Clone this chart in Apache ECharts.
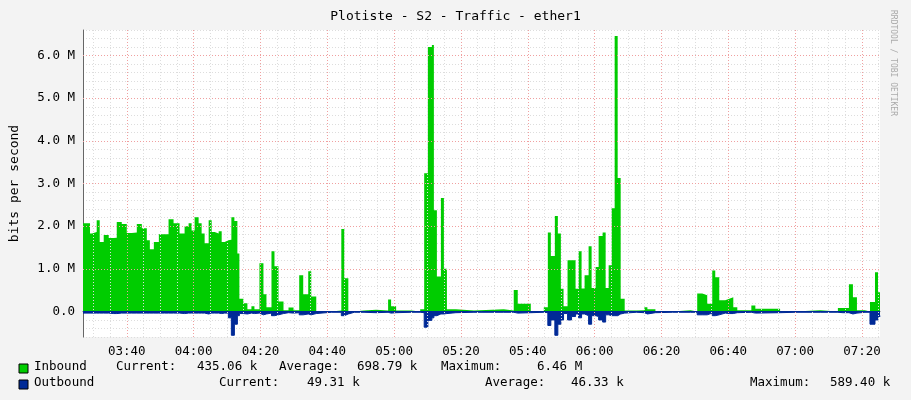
<!DOCTYPE html>
<html><head><meta charset="utf-8">
<script src="https://cdn.jsdelivr.net/npm/echarts@6/dist/echarts.min.js"></script>
<style>html,body{margin:0;padding:0;background:#f3f3f3}#c{width:911px;height:400px}</style>
</head><body><div id="c"></div>
<script>
// times in minutes since midnight, values in Mbit/s
const times = [206.9,209,209.6,211,211.9,213.1,214.6,216.1,217,218.5,220,221.5,223,224.5,226,226.9,228.1,229.6,231.3,232.5,234,235.8,237.3,238.5,239.4,240.3,241.5,242.4,243.3,244.5,245.4,246.3,247.5,248.4,249.3,250.4,251.3,252.2,253.1,253.7,254.9,256.1,257.3,258.2,259.7,260.9,261.8,263.3,264.2,265.4,266.9,268.4,269.9,271.6,272.8,274.3,275.2,276.7,281.2,284.2,285.1,286.3,288.1,291,294.6,298.2,299.1,300.6,305.1,307.8,309,310.1,311.3,311.9,312.8,314,314.9,315.8,318.5,323.9,332.8,335.8,337,340.9,344.8,346,346.9,348.1,349,349.9,350.7,351.9,353.1,354.3,355.2,356.1,357,358.2,359.1,360.3,361.2,362.4,363.3,364.2,365.1,366,366.9,367.8,369,372.5,374.9,375.8,378.2,383.3,388.7,390.7,392.2,393.7,395.2,396.1,397.3,399.1,400.3,401.5,402.7,406.9,408.1,415.5,420,427.5,432.8,434.3,436.1,437.3,438.5,440.9,442.4,443.9,444.8,445.4];
const inbound = [2.07,1.83,1.86,2.14,1.63,1.79,1.72,1.73,2.1,2.05,1.84,1.85,2.05,1.95,1.67,1.46,1.63,1.81,1.81,2.16,2.07,1.83,2.0,2.07,1.9,2.21,2.07,1.83,1.6,2.14,1.86,1.83,1.88,1.63,1.67,1.68,2.21,2.12,1.36,0.3,0.19,0.05,0.12,0.05,1.13,0.4,0.1,1.41,1.06,0.23,0.03,0.09,0.03,0.85,0.4,0.94,0.35,0.0,0.02,1.93,0.78,0.0,0.02,0.04,0.02,0.28,0.12,0.02,0.0,0.05,3.24,6.2,6.25,2.37,0.82,2.66,1.0,0.05,0.02,0.05,0.02,0.5,0.18,0.0,0.1,1.85,1.3,2.24,1.83,0.53,0.12,1.2,1.2,0.53,1.41,0.54,0.85,1.53,0.55,1.04,1.77,1.85,0.55,1.08,2.42,6.46,3.13,0.3,0.02,0.03,0.1,0.05,0.0,0.03,0.0,0.42,0.38,0.18,0.96,0.8,0.26,0.3,0.33,0.1,0.03,0.14,0.06,0.0,0.03,0.0,0.08,0.08,0.64,0.33,0.03,0.0,0.22,0.92,0.45,0.43];
const outbound = [-0.04,-0.04,-0.04,-0.04,-0.04,-0.04,-0.05,-0.05,-0.04,-0.04,-0.04,-0.04,-0.04,-0.04,-0.04,-0.04,-0.04,-0.04,-0.04,-0.04,-0.04,-0.05,-0.04,-0.04,-0.04,-0.04,-0.04,-0.04,-0.06,-0.04,-0.04,-0.04,-0.05,-0.04,-0.04,-0.15,-0.56,-0.3,-0.1,-0.05,-0.06,-0.04,-0.05,-0.04,-0.08,-0.06,-0.04,-0.1,-0.08,-0.05,-0.03,-0.04,-0.03,-0.08,-0.06,-0.08,-0.05,-0.02,-0.02,-0.1,-0.06,-0.02,-0.02,-0.03,-0.02,-0.04,-0.03,-0.02,-0.02,-0.03,-0.37,-0.21,-0.15,-0.1,-0.06,-0.06,-0.05,-0.03,-0.02,-0.02,-0.02,-0.04,-0.03,-0.02,-0.03,-0.33,-0.2,-0.56,-0.3,-0.2,-0.05,-0.2,-0.12,-0.06,-0.15,-0.06,-0.1,-0.3,-0.1,-0.12,-0.2,-0.25,-0.08,-0.1,-0.1,-0.1,-0.06,-0.04,-0.02,-0.03,-0.06,-0.03,-0.02,-0.02,-0.02,-0.08,-0.08,-0.04,-0.1,-0.08,-0.04,-0.05,-0.05,-0.03,-0.02,-0.04,-0.03,-0.02,-0.02,-0.02,-0.03,-0.03,-0.06,-0.04,-0.02,-0.02,-0.3,-0.2,-0.12,-0.1];
const xLabels = [220,240,260,280,300,320,340,360,380,400,420,440];
const yLabels = [0,1,2,3,4,5,6];
const legendIn = ['Inbound','Current:','435.06 k','Average:','698.79 k','Maximum:','6.46 M'];
const legendOut = ['Outbound','Current:','49.31 k','Average:','46.33 k','Maximum:','589.40 k'];

const fmt = m => { const h=Math.floor(m/60), mm=Math.round(m%60); return String(h).padStart(2,'0')+':'+String(mm).padStart(2,'0'); };
const minorX = []; for (let t=210; t<=445; t+=5) if (t%20) minorX.push({xAxis:t});
const F = '"DejaVu Sans Mono", monospace';
const inPos = [34,116,197,279,357,441,537];
const outPos = [34,219,307,485,571,750,830];
const gtext = [];
legendIn.forEach((s,i)=>gtext.push({type:'text',left:inPos[i],top:360,style:{text:s,font:'12.5px '+F,fill:'#000'}}));
legendOut.forEach((s,i)=>gtext.push({type:'text',left:outPos[i],top:376,style:{text:s,font:'12.5px '+F,fill:'#000'}}));
gtext.push({type:'rect',shape:{x:19,y:364,width:9,height:9},style:{fill:'#00cc00',stroke:'#000',lineWidth:1}});
gtext.push({type:'rect',shape:{x:19,y:380,width:9,height:9},style:{fill:'#002a97',stroke:'#000',lineWidth:1}});
gtext.push({type:'text',x:897,y:10,rotation:-Math.PI/2,style:{text:'RRDTOOL / TOBI OETIKER',font:'8px '+F,fill:'#aaa'}});

const chart = echarts.init(document.getElementById('c'));
chart.setOption({
  backgroundColor:'#f3f3f3', animation:false,
  title:{text:'Plotiste - S2 - Traffic - ether1',left:'center',top:5,textStyle:{fontFamily:F,fontSize:13,fontWeight:'normal',color:'#000'}},
  grid:{left:81,right:31,top:30,bottom:63,show:true,backgroundColor:'#fff',borderWidth:0},
  xAxis:{type:'value',min:206.9,max:445.4,
    axisLine:{lineStyle:{color:'#666'}},axisTick:{show:false},splitLine:{show:false},
    axisLabel:{customValues:xLabels,formatter:v=>fmt(v),fontFamily:F,fontSize:12.5,color:'#000',margin:8}},
  yAxis:{type:'value',min:-0.6,max:6.6,interval:0.2,
    name:'bits per second',nameLocation:'middle',nameGap:62,nameTextStyle:{fontFamily:F,fontSize:13,color:'#000'},
    axisLine:{show:true,lineStyle:{color:'#666'}},axisTick:{show:false},
    splitLine:{lineStyle:{color:'#ddd',type:[1,2]}},
    axisLabel:{fontFamily:F,fontSize:12.5,color:'#000',margin:8,
      formatter:v=>{const r=Math.round(v); if(Math.abs(v-r)>1e-6||!yLabels.includes(r))return ''; return r===0?'0.0':r.toFixed(1)+' M';}}},
  graphic:gtext,
  series:[
    {type:'line',data:[],silent:true,
     markLine:{symbol:'none',silent:true,label:{show:false},lineStyle:{color:'#ddd',type:[1,2],width:1},data:minorX}},
    {type:'line',data:[],silent:true,
     markLine:{symbol:'none',silent:true,label:{show:false},lineStyle:{color:'#f0a0a0',type:[1,2],width:1},
       data:xLabels.map(t=>({xAxis:t})).concat(yLabels.filter(v=>v>0).map(v=>({yAxis:v})))}},
    {name:'Inbound',type:'line',step:'end',symbol:'none',data:times.map((t,i)=>[t,inbound[i]]),
     lineStyle:{width:0},areaStyle:{color:'#00cc00',opacity:1}},
    {name:'Outbound',type:'line',step:'end',symbol:'none',data:times.map((t,i)=>[t,outbound[i]]),
     lineStyle:{width:1,color:'#002a97'},areaStyle:{color:'#002a97',opacity:1},
     markLine:{symbol:'none',silent:true,label:{show:false},lineStyle:{color:'#002a97',type:'solid',width:1},data:[{yAxis:0}]}}
  ]
});
</script></body></html>
